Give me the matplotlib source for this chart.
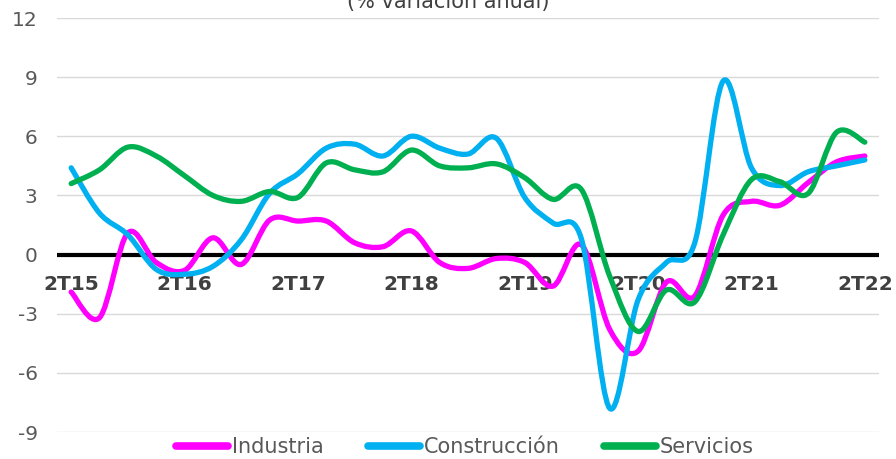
import numpy as np
import matplotlib.pyplot as plt
from matplotlib.path import Path
from matplotlib.patches import PathPatch
from matplotlib.lines import Line2D

plt.rcParams['axes.unicode_minus'] = False

# data (% variación anual, trimestral 2T15 - 2T22)
#
quarters = [f'{q}T{y}' for y in range(15, 23) for q in (1, 2, 3, 4)][1:30]

industria = [-1.9, -3.2, 1.1, -0.4, -0.8, 0.85, -0.5, 1.75, 1.7, 1.7,
             0.6, 0.4, 1.2, -0.4, -0.7, -0.2, -0.4, -1.6, 0.5, -3.8,
             -4.9, -1.4, -2.1, 2.0, 2.7, 2.5, 3.65, 4.7, 5.0]
construccion = [4.4, 2.1, 1.0, -0.75, -1.0, -0.6, 0.75, 3.1, 4.1, 5.4,
                5.6, 5.0, 6.0, 5.4, 5.1, 5.9, 2.9, 1.6, 0.8, -7.8,
                -2.3, -0.4, 0.6, 8.8, 4.4, 3.5, 4.2, 4.5, 4.8]
servicios = [3.6, 4.3, 5.45, 5.0, 4.0, 3.0, 2.7, 3.2, 2.9, 4.65,
             4.3, 4.2, 5.3, 4.5, 4.4, 4.6, 3.9, 2.8, 3.3, -1.1,
             -3.9, -1.8, -2.4, 1.0, 3.8, 3.7, 3.1, 6.2, 5.7]

series = [('Industria', industria, '#FF00FF'),
          ('Construcción', construccion, '#00B0F0'),
          ('Servicios', servicios, '#00B050')]


def smooth_path(x, y):
    # excel-like smoothed line: cubic bezier, catmull-rom control points
    p = np.column_stack([x, y]).astype(float)
    ext = np.vstack([p[0], p, p[-1]])
    verts = [p[0]]
    codes = [Path.MOVETO]
    for i in range(len(p) - 1):
        a, b, c, d = ext[i], ext[i + 1], ext[i + 2], ext[i + 3]
        verts += [b + (c - a) / 6, c - (d - b) / 6, c]
        codes += [Path.CURVE4] * 3
    return Path(verts, codes)


# plot
#
fig = plt.figure(figsize=(8.96, 4.59), dpi=100)
ax = fig.add_axes([57 / 896, 1 - 432 / 459, 822 / 896, 414 / 459])

xs = np.arange(len(quarters))

for name, vals, col in series:
    patch = PathPatch(smooth_path(xs, vals), fill=False, edgecolor=col,
                      linewidth=3.8, capstyle='round', joinstyle='round',
                      zorder=3)
    ax.add_patch(patch)

ax.axhline(0, color='black', linewidth=3, zorder=2)

ax.set_xlim(-0.5, len(quarters) - 0.5)
ax.set_ylim(-9, 12)
ax.set_yticks(np.arange(-9, 13, 3))
ax.yaxis.grid(True, color='#D9D9D9', linewidth=1)
ax.set_axisbelow(True)

for s in ax.spines.values():
    s.set_visible(False)
ax.spines['bottom'].set_position(('data', 0))

ax.set_xticks(xs[::4])
ax.set_xticklabels(quarters[::4], fontsize=14.5, fontweight='bold',
                   color='#404040')
ax.tick_params(axis='x', length=0, pad=15)
ax.tick_params(axis='y', length=0, pad=14, labelsize=14.5,
               labelcolor='#595959')

# label
#
fig.text(0.5, 1 - 8 / 459, '(% variación anual)', ha='center',
         va='baseline', fontsize=15, color='#404040')

handles = [Line2D([], [], color=c, linewidth=5.5, solid_capstyle='round')
           for _, _, c in series]
fig.legend(handles, [n for n, _, _ in series], loc='center',
           bbox_to_anchor=(0.519, 1 - 447 / 459), ncol=3, frameon=False,
           fontsize=15, labelcolor='#595959', handlelength=2.5,
           handletextpad=0.2, columnspacing=2.1, borderpad=0,
           borderaxespad=0)

# output
#
plt.savefig('out.png', dpi=100)
